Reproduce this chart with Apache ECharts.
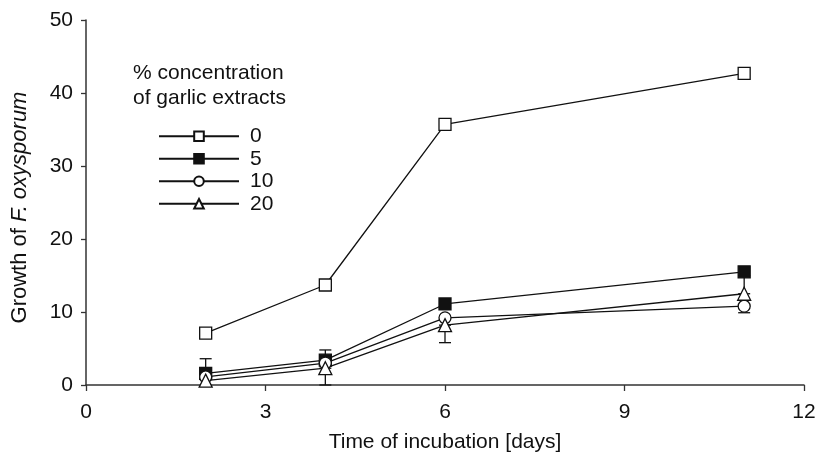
<!DOCTYPE html>
<html><head><meta charset="utf-8">
<script src="https://cdn.jsdelivr.net/npm/echarts@6/dist/echarts.min.js"></script>
<style>html,body{margin:0;padding:0;background:#fff}#c{width:818px;height:454px}</style>
</head><body><div id="c"></div>
<script>
const days = [2, 4, 6, 11];
const seriesNames = ['0', '5', '10', '20'];
const conc0 = [7.1, 13.7, 35.7, 42.7];
const conc5 = [1.6, 3.4, 11.1, 15.5];
const conc10 = [1.1, 3.0, 9.2, 10.8];
const conc20 = [0.6, 2.3, 8.2, 12.5];
// error bars: [day, low, high]
const errBars = [
  [2, 1.6, 3.6],
  [4, 3.4, 4.8],
  [4, 0.0, 2.3],
  [6, 5.8, 8.2],
  [11, 9.9, 10.8],
  [11, 12.5, 15.0]
];
const xTicks = [0, 3, 6, 9, 12];
const yTicks = [0, 10, 20, 30, 40, 50];

const ink = '#111';
const font = 'Liberation Sans, Arial, sans-serif';
const fs = 21;
function pairs(v){ return days.map((d,i)=>[d, v[i]]); }
const symbols = [
  {symbol:'rect', fill:'#fff'},
  {symbol:'rect', fill:ink},
  {symbol:'circle', fill:'#fff'},
  {symbol:'triangle', fill:'#fff'}
];
const vals = [conc0, conc5, conc10, conc20];
const lineSeries = vals.map((v,i)=>({
  type:'line', name:seriesNames[i], data:pairs(v),
  symbol:symbols[i].symbol, symbolSize: symbols[i].symbol==='triangle'?13:12,
  lineStyle:{color:ink, width:1.3},
  itemStyle:{color:symbols[i].fill, borderColor:ink, borderWidth:1.3},
  z:5, animation:false
}));
const errSeries = {
  type:'custom', z:2, animation:false, silent:true,
  data: errBars,
  renderItem(params, api){
    const x = api.value(0), lo = api.value(1), hi = api.value(2);
    const p1 = api.coord([x, lo]), p2 = api.coord([x, hi]);
    const w = 6;
    const st = {stroke:ink, lineWidth:1.3};
    return {type:'group', children:[
      {type:'line', shape:{x1:p1[0], y1:p1[1], x2:p2[0], y2:p2[1]}, style:st},
      {type:'line', shape:{x1:p1[0]-w, y1:p1[1], x2:p1[0]+w, y2:p1[1]}, style:st},
      {type:'line', shape:{x1:p2[0]-w, y1:p2[1], x2:p2[0]+w, y2:p2[1]}, style:st}
    ]};
  }
};
const chart = echarts.init(document.getElementById('c'));
chart.setOption({
  animation:false,
  textStyle:{fontFamily:font},
  grid:{left:86, right:14, top:20, bottom:69, outerBoundsMode:'none', containLabel:false},
  graphic:[{type:'text', left:133, top:61, style:{text:'% concentration\nof garlic extracts', font:fs+'px '+font, fill:ink, lineHeight:25}}],
  legend:{
    orient:'vertical', left:153, top:120, itemWidth:80, itemHeight:12, itemGap:0,
    textStyle:{fontSize:fs, color:ink, fontFamily:font, padding:[0,0,0,6], lineHeight:22.5},
    data:seriesNames, selectedMode:false
  },
  xAxis:{
    type:'value', min:0, max:12, interval:3,
    name:'Time of incubation [days]', nameLocation:'middle', nameGap:47,
    nameTextStyle:{fontSize:fs, color:ink},
    axisLine:{lineStyle:{color:'#333', width:1.5}},
    axisTick:{show:true, inside:false, length:6, lineStyle:{color:'#333', width:1.3}},
    axisLabel:{fontSize:fs, color:ink, margin:17},
    splitLine:{show:false}
  },
  yAxis:{
    type:'value', min:0, max:50, interval:10,
    name:'{r|Growth of }{i|F. oxysporum}', nameLocation:'middle', nameGap:55, nameRotate:90,
    nameTextStyle:{padding:[0,10,0,0], rich:{r:{fontSize:22, color:ink, fontFamily:font}, i:{fontSize:22, color:ink, fontStyle:'italic', fontFamily:font}}},
    axisLine:{show:true, lineStyle:{color:'#333', width:1.5}},
    axisTick:{show:true, inside:false, length:5, lineStyle:{color:'#333', width:1.3}},
    axisLabel:{fontSize:fs, color:ink, margin:13},
    splitLine:{show:false}
  },
  series:[errSeries, ...lineSeries]
});
</script></body></html>
